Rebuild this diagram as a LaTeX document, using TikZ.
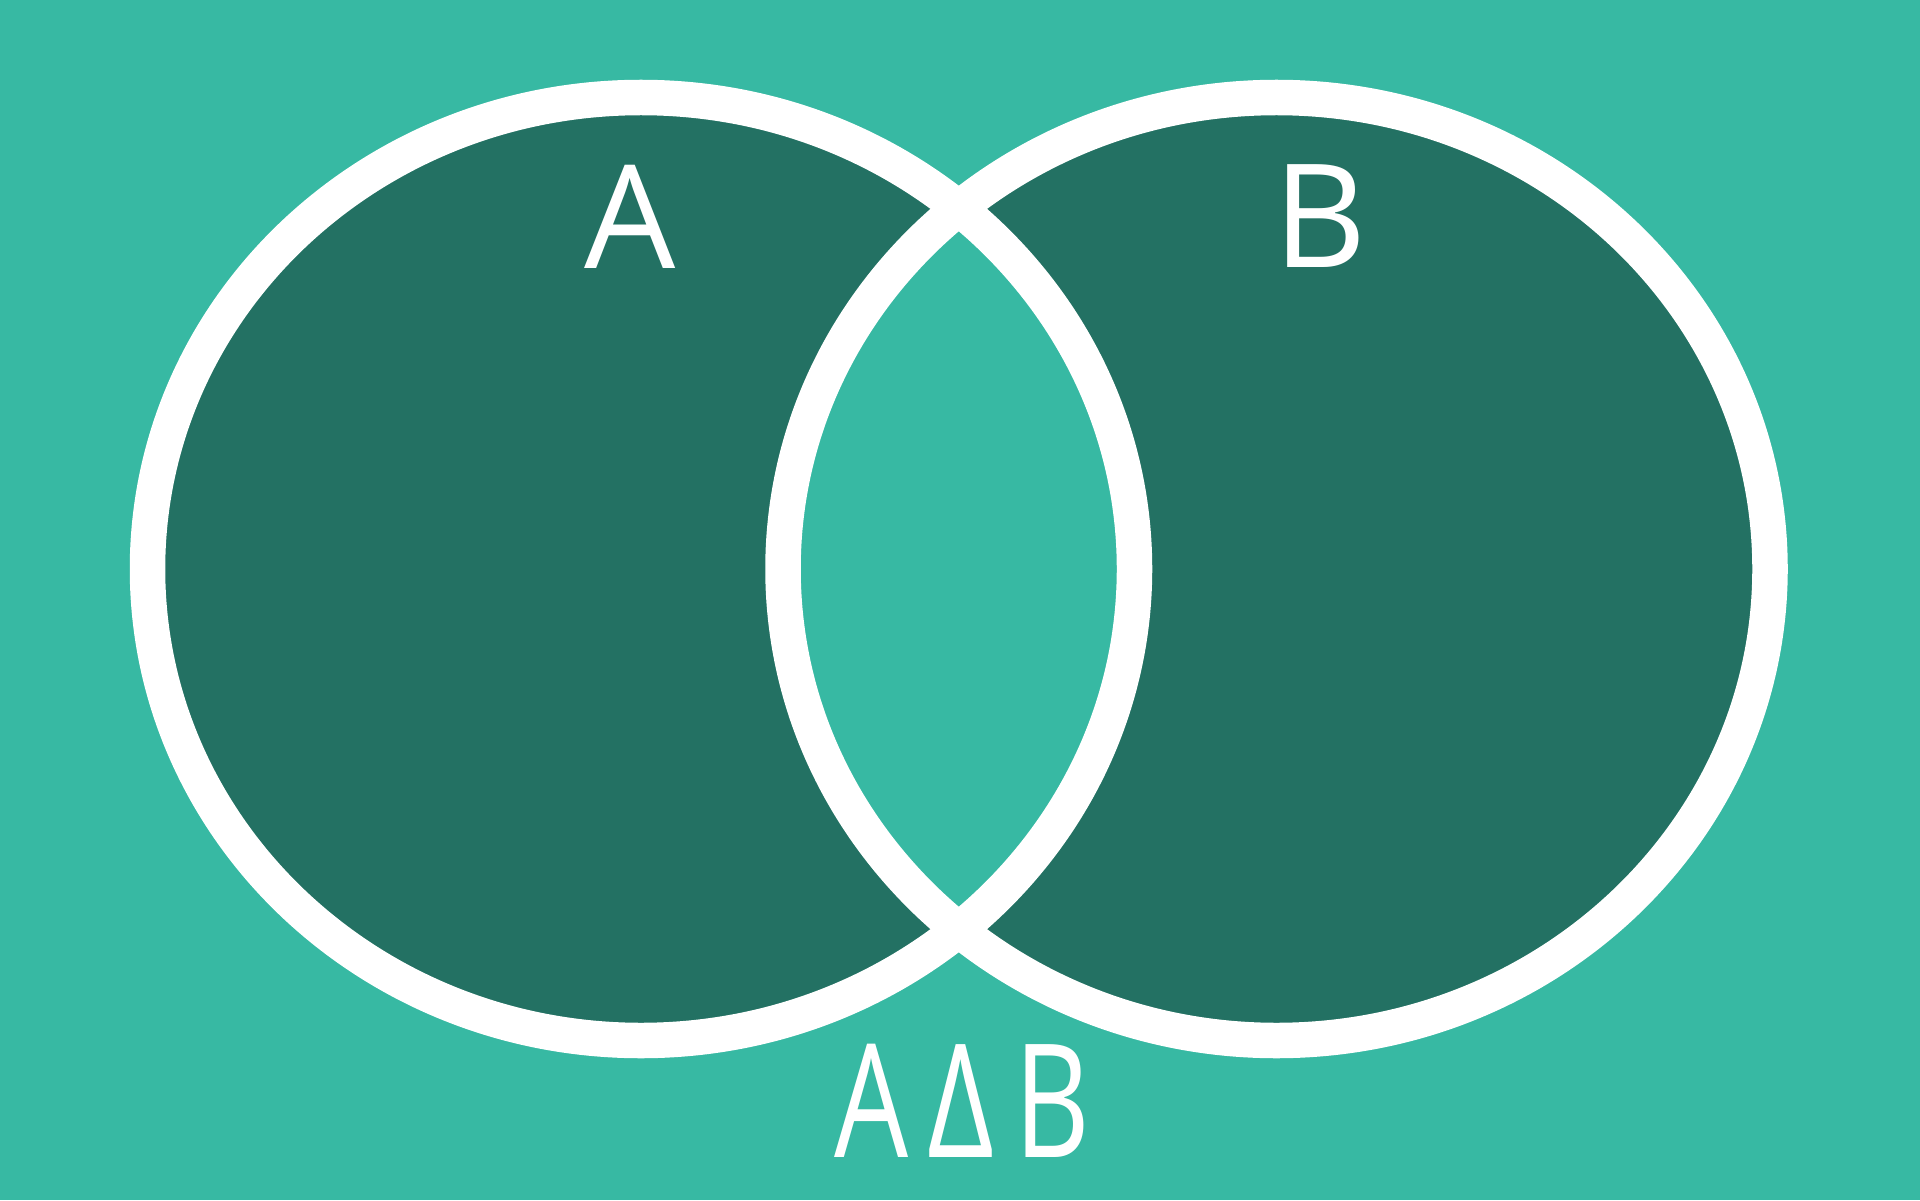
\documentclass[tikz,border=0pt]{standalone}
\usepackage{fontspec}
\setmainfont{Open Sans}
\usepackage{xcolor}
\definecolor{bgteal}{HTML}{37B9A3}
\definecolor{darkteal}{HTML}{237163}
\tikzset{
  % Venn styles
  setring/.style={draw=white, line width=0.355cm},
  setlabel/.style={text=white, inner sep=0pt, font=\fontsize{41}{41}\selectfont},
  oplabel/.style={text=white, inner sep=0pt, font=\fontsize{45}{45}\selectfont},
}
\begin{document}
\begin{tikzpicture}
    % Background
    \fill[bgteal] (0,0) rectangle (19.2,12);
    \useasboundingbox (0,0) rectangle (19.2,12);

    % Symmetric difference: fill both sets, overlap left empty
    \fill[darkteal, even odd rule] (6.41,6.31) ellipse [x radius=4.935, y radius=4.715]
                                   (12.765,6.31) ellipse [x radius=4.935, y radius=4.715];

    % Set outlines
    \draw[setring] (6.41,6.31) ellipse [x radius=4.935, y radius=4.715];
    \draw[setring] (12.765,6.31) ellipse [x radius=4.935, y radius=4.715];

    % Labels
    \node[setlabel] (labA) at (6.30,9.835) {A};
    \node[setlabel] (labB) at (13.20,9.835) {B};
    \node[oplabel] (symdiff) at (9.62,0.99) {\scalebox{0.74}[1]{A\,Δ\,B}};
\end{tikzpicture}
\end{document}
